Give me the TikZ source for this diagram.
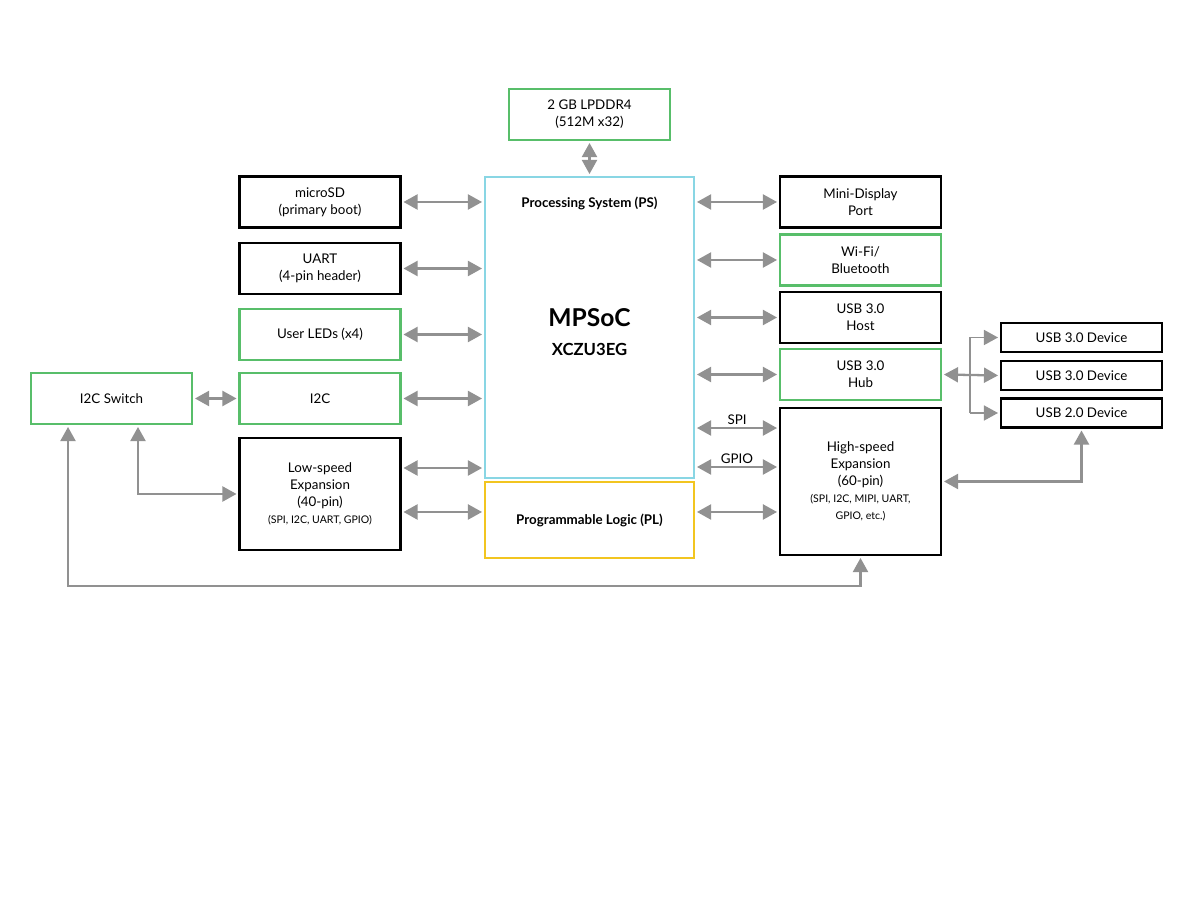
\documentclass[tikz,border=0pt]{standalone}
\usepackage{fontspec}
\setmainfont{Lato}
\usetikzlibrary{positioning, calc, arrows.meta}
\definecolor{bordergreen}{RGB}{88,190,106}
\definecolor{borderblue}{RGB}{137,214,228}
\definecolor{borderyellow}{RGB}{242,197,32}
\definecolor{arrowgray}{RGB}{145,145,145}
\tikzset{
    basebox/.style={
        align=center,
        draw,
        line width=1.4pt,
        font=\fontsize{7.6}{9.6}\selectfont,
        inner sep=2pt,
        minimum width=3.22cm,
        minimum height=1.02cm
    },
    blackbox/.style={basebox, draw=black},
    greenbox/.style={basebox, draw=bordergreen},
    devbox/.style={basebox, draw=black, minimum height=0.58cm},
    chipbox/.style={basebox, minimum width=4.18cm},
    myarrow/.style={{Triangle[length=8pt,width=8.5pt]}-{Triangle[length=8pt,width=8.5pt]}, line width=1.3pt, draw=arrowgray, shorten <=1pt, shorten >=1pt},
    onearrow/.style={-{Triangle[length=8pt,width=8.5pt]}, line width=1pt, draw=arrowgray, shorten >=1pt},
    busline/.style={line width=1pt, draw=arrowgray},
    smalltext/.style={font=\fontsize{6}{8}\selectfont}
}

\begin{document}
\begin{tikzpicture}[x=0.02cm, y=-0.02cm]

    \useasboundingbox (0,0) rectangle (1188,918);

    % Chip
    \node[chipbox, draw=borderblue, minimum height=6.02cm] (ps) at (589.5, 327.5) {};
    \node[chipbox, draw=borderyellow, minimum height=1.52cm, font=\fontsize{7.6}{9.6}\selectfont\bfseries] (pl) at (589.5, 520) {Programmable Logic (PL)};
    \node[font=\fontsize{7.6}{9.6}\selectfont\bfseries] (ps_title) at (589.5, 203) {Processing System (PS)};
    \node[font=\fontsize{14}{16}\selectfont\bfseries] (mpsoc) at (589.5, 318) {MPSoC};
    \node[font=\fontsize{9.5}{11}\selectfont\bfseries] (xczu) at (589.5, 349) {XCZU3EG};

    % Memory
    \node[greenbox] (lpddr) at (589.5, 114.5) {2 GB LPDDR4 \\ (512M x32)};

    % Left column
    \node[blackbox] (microsd) at (320, 202) {microSD \\ (primary boot)};
    \node[blackbox] (uart) at (320, 268.5) {UART \\ (4-pin header)};
    \node[greenbox] (leds) at (320, 334.5) {User LEDs (x4)};
    \node[greenbox] (i2c) at (320, 398.5) {I2C};
    \node[blackbox, minimum height=2.24cm] (lowspeed) at (320, 494) {Low-speed \\ Expansion \\ (40-pin) \\ {\fontsize{6}{8}\selectfont (SPI, I2C, UART, GPIO)}};
    \node[greenbox] (i2cswitch) at (111.5, 398.5) {I2C Switch};

    % Right column
    \node[blackbox] (minidp) at (860.5, 202) {Mini-Display \\ Port};
    \node[greenbox] (wifi) at (860.5, 260) {Wi-Fi/ \\ Bluetooth};
    \node[blackbox] (usbhost) at (860.5, 317.5) {USB 3.0 \\ Host};
    \node[greenbox] (usbhub) at (860.5, 374.5) {USB 3.0 \\ Hub};
    \node[blackbox, minimum height=2.94cm] (highspeed) at (860.5, 481.5) {High-speed \\ Expansion \\ (60-pin) \\ {\fontsize{6}{8.5}\selectfont (SPI, I2C, MIPI, UART,} \\ {\fontsize{6}{8.5}\selectfont GPIO, etc.)}};

    % USB devices
    \node[devbox] (dev1) at (1081.5, 337.5) {USB 3.0 Device};
    \node[devbox] (dev2) at (1081.5, 375.5) {USB 3.0 Device};
    \node[devbox] (dev3) at (1081.5, 413) {USB 2.0 Device};

    % helper points
    \coordinate (ls_ps) at ([yshift=0.52cm]lowspeed.east);
    \coordinate (ls_pl) at ([yshift=-0.36cm]lowspeed.east);
    \coordinate (hs_spi) at ([yshift=1.07cm]highspeed.west);
    \coordinate (hs_gpio) at ([yshift=0.29cm]highspeed.west);
    \coordinate (hs_pl) at ([yshift=-0.61cm]highspeed.west);
    \coordinate (hubjoin) at (970, 375);
    \coordinate (busI2C) at (0, 586);

    % Connections
    \draw[myarrow] (lpddr.south) -- (ps.north);

    \draw[myarrow] (microsd.east) -- (microsd.east -| ps.west);
    \draw[myarrow] (uart.east) -- (uart.east -| ps.west);
    \draw[myarrow] (leds.east) -- (leds.east -| ps.west);
    \draw[myarrow] (i2c.east) -- (i2c.east -| ps.west);
    \draw[myarrow] (ls_ps) -- (ls_ps -| ps.west);
    \draw[myarrow] (ls_pl) -- (ls_pl -| pl.west);
    \draw[myarrow] (i2cswitch.east) -- (i2c.west);

    \draw[myarrow] (minidp.west -| ps.east) -- (minidp.west);
    \draw[myarrow] (wifi.west -| ps.east) -- (wifi.west);
    \draw[myarrow] (usbhost.west -| ps.east) -- (usbhost.west);
    \draw[myarrow] (usbhub.west -| ps.east) -- (usbhub.west);
    \draw[myarrow] (hs_spi -| ps.east) -- (hs_spi) node[midway, above, font=\fontsize{7.6}{9}\selectfont, inner sep=1.5pt] {SPI};
    \draw[myarrow] (hs_gpio -| ps.east) -- (hs_gpio) node[midway, above, font=\fontsize{7.6}{9}\selectfont, inner sep=1.5pt] {GPIO};
    \draw[myarrow] (hs_pl -| pl.east) -- (hs_pl);

    % USB hub fan-out
    \draw[myarrow] (usbhub.east) -- (dev2.west);
    \draw[busline] (hubjoin |- dev1.west) -- (hubjoin |- dev3.west);
    \draw[onearrow] (hubjoin |- dev1.west) -- (dev1.west);
    \draw[onearrow] (hubjoin |- dev3.west) -- (dev3.west);
    \draw[myarrow] (highspeed.east) -| (dev3.south);

    % I2C switch buses
    \draw[myarrow] ([xshift=0.53cm]i2cswitch.south) |- (lowspeed.west);
    \draw[myarrow] ([xshift=-0.87cm]i2cswitch.south) |- (busI2C -| highspeed.south) -- (highspeed.south);

\end{tikzpicture}
\end{document}
